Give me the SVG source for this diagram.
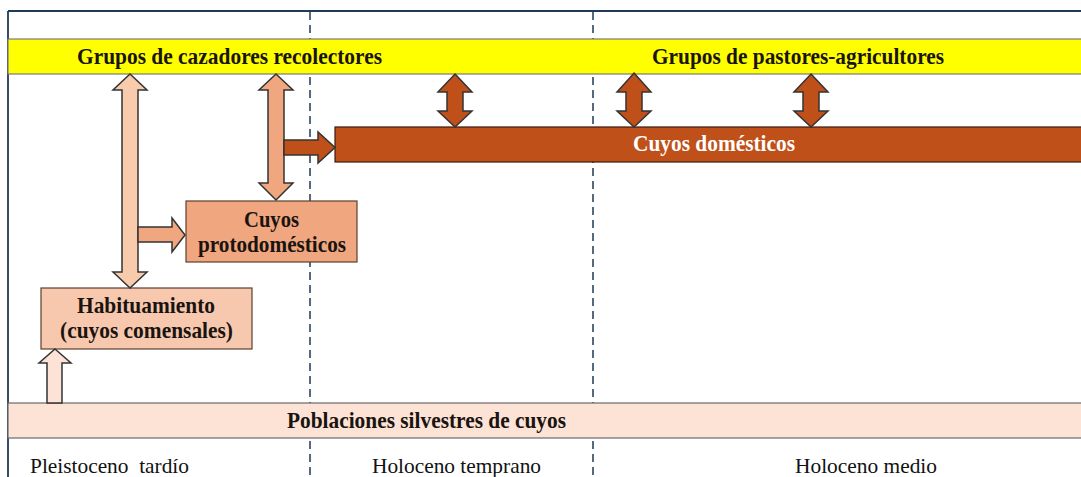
<svg xmlns="http://www.w3.org/2000/svg" width="1081" height="477" viewBox="0 0 1081 477">
<style>
.hb{font-family:"Liberation Serif","Times New Roman",serif;font-weight:bold;font-size:23px;fill:#1a1410;text-anchor:middle}
.hw{font-family:"Liberation Serif","Times New Roman",serif;font-weight:bold;font-size:23px;fill:#ffffff;text-anchor:middle}
.lr{font-family:"Liberation Serif","Times New Roman",serif;font-size:21px;fill:#111;text-anchor:middle}
.arr{stroke:#333333;stroke-width:1.5;stroke-linejoin:miter}
.dash{stroke:#1f3a55;stroke-width:1.5;stroke-dasharray:8 5;fill:none}
</style>
<rect x="0" y="0" width="1081" height="477" fill="#ffffff"/>
<g id="frame">
<line x1="8" y1="11" x2="1081" y2="11" stroke="#1f3a55" stroke-width="1.8"/>
<line x1="8" y1="11" x2="8" y2="477" stroke="#1f3a55" stroke-width="1.8"/>
<line class="dash" x1="310" y1="12" x2="310" y2="477"/>
<line class="dash" x1="593" y1="12" x2="593" y2="477"/>
</g>
<g id="band-cazadores">
<rect x="8" y="39" width="1075" height="35" fill="#ffff00" stroke="#7a7a7a" stroke-width="1.2"/>
<text class="hb" x="229.5" y="64" textLength="305" lengthAdjust="spacingAndGlyphs">Grupos de cazadores recolectores</text>
<text class="hb" x="798" y="64" textLength="292" lengthAdjust="spacingAndGlyphs">Grupos de pastores-agricultores</text>
</g>
<g id="cuyos-domesticos">
<rect x="335" y="127" width="748" height="35" fill="#c0501a" stroke="#3a1a0a" stroke-width="1.2"/>
<text class="hw" x="714" y="151" textLength="162" lengthAdjust="spacingAndGlyphs">Cuyos domésticos</text>
</g>
<g id="cuyos-protodomesticos">
<rect x="186" y="201" width="171" height="61" fill="#f0a67e" stroke="#5a4030" stroke-width="1.2"/>
<text class="hb" x="271.5" y="227" textLength="55" lengthAdjust="spacingAndGlyphs">Cuyos</text>
<text class="hb" x="272" y="252" textLength="148" lengthAdjust="spacingAndGlyphs">protodomésticos</text>
</g>
<g id="habituamiento">
<rect x="41" y="288" width="211" height="61" fill="#f7c8ae" stroke="#5a4030" stroke-width="1.2"/>
<text class="hb" x="146" y="313" textLength="138" lengthAdjust="spacingAndGlyphs">Habituamiento</text>
<text class="hb" x="146.5" y="338" textLength="173" lengthAdjust="spacingAndGlyphs">(cuyos comensales)</text>
</g>
<g id="poblaciones-silvestres">
<rect x="8" y="403" width="1075" height="35" fill="#fce3d6" stroke="#6a6a6a" stroke-width="1.2"/>
<text class="hb" x="426.5" y="428" textLength="279" lengthAdjust="spacingAndGlyphs">Poblaciones silvestres de cuyos</text>
</g>
<g id="periodos">
<text class="lr" x="109.5" y="473" textLength="159" lengthAdjust="spacingAndGlyphs" xml:space="preserve">Pleistoceno  tardío</text>
<text class="lr" x="456.5" y="473" textLength="169" lengthAdjust="spacingAndGlyphs">Holoceno temprano</text>
<text class="lr" x="866" y="473" textLength="142" lengthAdjust="spacingAndGlyphs">Holoceno medio</text>
</g>
<g id="connectors">
<polygon class="arr" fill="#f8cbad" points="130,74 147,90 138,90 138,272 147,272 130,288 113,272 122,272 122,90 113,90"/>
<polygon class="arr" fill="#f0a67e" points="276,74 293,90 284,90 284,183 293,183 276,200 259,183 268,183 268,90 259,90"/>
<polygon class="arr" fill="#f0a67e" points="138,227 172,227 172,218 185,235 172,252 172,242 138,242"/>
<polygon class="arr" fill="#c0501a" points="284,140 318,140 318,132 335,147.5 318,163 318,155 284,155"/>
<polygon class="arr" fill="#fce3d6" points="55,349 71,363 62,363 62,403 47,403 47,363 39,363"/>
<polygon class="arr" fill="#c0501a" points="455,74 472,92 463,92 463,111 472,111 455,127 438,111 447,111 447,92 438,92"/>
<polygon class="arr" fill="#c0501a" points="634,73 651,92 642,92 642,111 651,111 634,127 617,111 626,111 626,92 617,92"/>
<polygon class="arr" fill="#c0501a" points="811,74 828,92 819,92 819,111 828,111 811,127 794,111 803,111 803,92 794,92"/>
</g>
</svg>
